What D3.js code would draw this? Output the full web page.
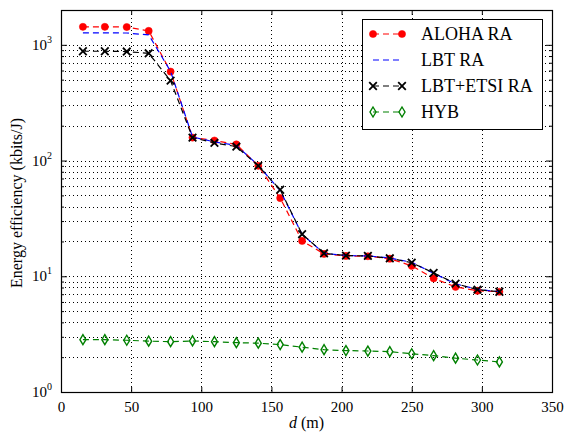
<!DOCTYPE html>
<html>
<head>
<meta charset="utf-8">
<script src="https://cdn.jsdelivr.net/npm/d3@7"></script>
<style>
  body { margin: 0; background: #fff; }
  svg text { font-family: "Liberation Serif", "Times New Roman", Times, "DejaVu Serif", serif !important; }
</style>
</head>
<body>
<div id="chart"></div>
<script>
// distance (m)
var distances = [15.625, 31.25, 46.875, 62.5, 78.125, 93.75, 109.375, 125, 140.625, 156.25,
                 171.875, 187.5, 203.125, 218.75, 234.375, 250, 265.625, 281.25, 296.875, 312.5]

// energy efficiency (kbits/J)
var alohaRA = [1430, 1430, 1425, 1320, 587, 158, 149, 138, 90, 47.4,
               20.2, 15.6, 15.0, 14.9, 14.2, 12.3, 9.6, 8.1, 7.5, 7.35]
var lbtRA = [1270, 1270, 1265, 1220, 590, 160, 145, 135, 91, 55,
             23, 15.8, 15.1, 15.0, 14.4, 13.2, 10.6, 8.6, 7.7, 7.35]
var lbtEtsiRA = [880, 880, 875, 845, 490, 158, 142, 132, 90, 55.9,
                 23.1, 15.8, 15.1, 15.0, 14.3, 13.1, 10.7, 8.65, 7.67, 7.35]
var hyb = [2.83, 2.83, 2.80, 2.75, 2.72, 2.76, 2.72, 2.67, 2.64, 2.57,
           2.44, 2.32, 2.28, 2.26, 2.23, 2.14, 2.06, 1.96, 1.89, 1.82]

var xTicks = [0, 50, 100, 150, 200, 250, 300, 350]
var yDecades = [0, 1, 2, 3]

var seriesNames = ["ALOHA RA", "LBT RA", "LBT+ETSI RA", "HYB"]
var seriesData = [alohaRA, lbtRA, lbtEtsiRA, hyb]
var seriesColors = ["#ff0000", "#0000ff", "#000000", "#008000"]
var seriesMarkers = ["circle", "none", "cross", "diamond"]

var FONT = "'Liberation Serif', 'Times New Roman', Times, 'DejaVu Serif', serif"
var W = 565, H = 435
var pL = 61, pR = 552, pT = 10, pB = 392

var svg = d3.select("#chart").append("svg")
            .attr("width", W)
            .attr("height", H)
            .style("font-family", FONT)

var x = d3.scaleLinear().domain([0, 350]).range([pL, pR])
var y = d3.scaleLog().domain([1, 2000]).range([pB, pT])

// minor values for y grid / ticks
var yMinor = []
yDecades.forEach(function(e) {
  for (var m = 1; m <= 9; m++) {
    var v = m * Math.pow(10, e)
    if (v >= 1 && v <= 2000) yMinor.push(v)
  }
})

var grid = svg.append("g")
grid.selectAll(".gy").data(yMinor.slice(1)).enter().append("line")
    .attr("x1", pL).attr("x2", pR)
    .attr("y1", function(d) { return Math.round(y(d)) + 0.5 })
    .attr("y2", function(d) { return Math.round(y(d)) + 0.5 })
    .attr("stroke", "#000").attr("stroke-width", 1)
    .attr("stroke-dasharray", "1,3")
grid.selectAll(".gx").data(xTicks.slice(1, -1)).enter().append("line")
    .attr("y1", pT).attr("y2", pB)
    .attr("x1", function(d) { return Math.round(x(d)) + 0.5 })
    .attr("x2", function(d) { return Math.round(x(d)) + 0.5 })
    .attr("stroke", "#000").attr("stroke-width", 1)
    .attr("stroke-dasharray", "1,3")

// axes with inward ticks on all sides
var xb = svg.append("g").attr("transform", "translate(0," + pB + ")")
           .call(d3.axisBottom(x).tickValues(xTicks).tickSizeInner(-5).tickSizeOuter(0).tickPadding(9))
var xt = svg.append("g").attr("transform", "translate(0," + pT + ")")
           .call(d3.axisTop(x).tickValues(xTicks).tickSizeInner(-5).tickSizeOuter(0).tickFormat(""))
var yl = svg.append("g").attr("transform", "translate(" + pL + ",0)")
           .call(d3.axisLeft(y).tickValues(yMinor).tickSizeInner(-3).tickSizeOuter(0).tickFormat(""))
var yr = svg.append("g").attr("transform", "translate(" + pR + ",0)")
           .call(d3.axisRight(y).tickValues(yMinor).tickSizeInner(-3).tickSizeOuter(0).tickFormat(""))
// longer major ticks on y
yl.selectAll(".tick line").attr("x2", function(d) { return Math.abs(Math.log10(d) % 1) < 1e-9 ? 6 : 3 })
yr.selectAll(".tick line").attr("x2", function(d) { return Math.abs(Math.log10(d) % 1) < 1e-9 ? -6 : -3 })

;[xb, xt, yl, yr].forEach(function(a) {
  a.attr("font-family", null)
  a.select(".domain").remove()
  a.selectAll(".tick line").attr("stroke", "#000")
})
xb.selectAll(".tick text")
  .attr("fill", "#000")
  .style("font-size", "15px")
  .style("font-family", FONT)

// y tick labels 10^n
var ylab = svg.append("g")
ylab.selectAll("text").data(yDecades).enter().append("text")
    .attr("x", pL - 9)
    .attr("y", function(d) { return y(Math.pow(10, d)) + 5 })
    .attr("text-anchor", "end")
    .style("font-size", "15px")
    .style("font-family", FONT)
    .each(function(d) {
      var t = d3.select(this)
      t.append("tspan").text("10")
      t.append("tspan").attr("dy", -7).style("font-size", "10px").text(d)
    })

// frame
svg.append("rect")
   .attr("x", pL + 0.5).attr("y", pT + 0.5)
   .attr("width", pR - pL).attr("height", pB - pT)
   .attr("fill", "none").attr("stroke", "#000").attr("stroke-width", 1.2)

// axis titles
svg.append("text")
   .attr("transform", "translate(22," + ((pT + pB) / 2 + 2) + ") rotate(-90)")
   .attr("text-anchor", "middle")
   .style("font-size", "16px")
   .style("font-family", FONT)
   .text("Energy efficiency (kbits/J)")
var xl = svg.append("text")
   .attr("x", (pL + pR) / 2)
   .attr("y", 428)
   .attr("text-anchor", "middle")
   .style("font-size", "16px")
   .style("font-family", FONT)
xl.append("tspan").style("font-style", "italic").text("d")
xl.append("tspan").text(" (m)")

// marker drawing
function drawMarker(g, type, color, cx, cy) {
  if (type === "circle") {
    g.append("circle").attr("cx", cx).attr("cy", cy).attr("r", 3.6)
     .attr("fill", color).attr("stroke", color).attr("stroke-width", 0.5)
  } else if (type === "cross") {
    var s = 3.8
    g.append("path")
     .attr("d", "M" + (cx - s) + "," + (cy - s) + "L" + (cx + s) + "," + (cy + s) +
                "M" + (cx - s) + "," + (cy + s) + "L" + (cx + s) + "," + (cy - s))
     .attr("stroke", color).attr("stroke-width", 1.8).attr("fill", "none")
  } else if (type === "diamond") {
    var w = 3, h = 5
    g.append("path")
     .attr("d", "M" + cx + "," + (cy - h) + "L" + (cx + w) + "," + cy +
                "L" + cx + "," + (cy + h) + "L" + (cx - w) + "," + cy + "Z")
     .attr("stroke", color).attr("stroke-width", 1.4).attr("fill", "none")
  }
}

var line = d3.line()
             .x(function(d) { return x(d[0]) })
             .y(function(d) { return y(d[1]) })

var plot = svg.append("g")
seriesData.forEach(function(vals, i) {
  var pts = distances.map(function(d, j) { return [d, vals[j]] })
  plot.append("path")
      .datum(pts)
      .attr("d", line)
      .attr("fill", "none")
      .attr("stroke", seriesColors[i])
      .attr("stroke-width", 1.2)
      .attr("stroke-dasharray", "6,4")
  var mg = plot.append("g")
  pts.forEach(function(p) {
    drawMarker(mg, seriesMarkers[i], seriesColors[i], x(p[0]), y(p[1]))
  })
})

// legend
var lg = svg.append("g")
lg.append("rect")
  .attr("x", 362.5).attr("y", 19.5)
  .attr("width", 180).attr("height", 110)
  .attr("fill", "#fff").attr("stroke", "#000").attr("stroke-width", 1)
seriesNames.forEach(function(name, i) {
  var ry = 34 + i * 26
  lg.append("line")
    .attr("x1", 373).attr("x2", 402).attr("y1", ry).attr("y2", ry)
    .attr("stroke", seriesColors[i]).attr("stroke-width", 1.2)
    .attr("stroke-dasharray", "6,4")
  drawMarker(lg, seriesMarkers[i], seriesColors[i], 373, ry)
  drawMarker(lg, seriesMarkers[i], seriesColors[i], 402, ry)
  lg.append("text")
    .attr("x", 421).attr("y", ry + 6)
    .style("font-size", "18px")
    .style("font-family", FONT)
    .text(name)
})
</script>
</body>
</html>
